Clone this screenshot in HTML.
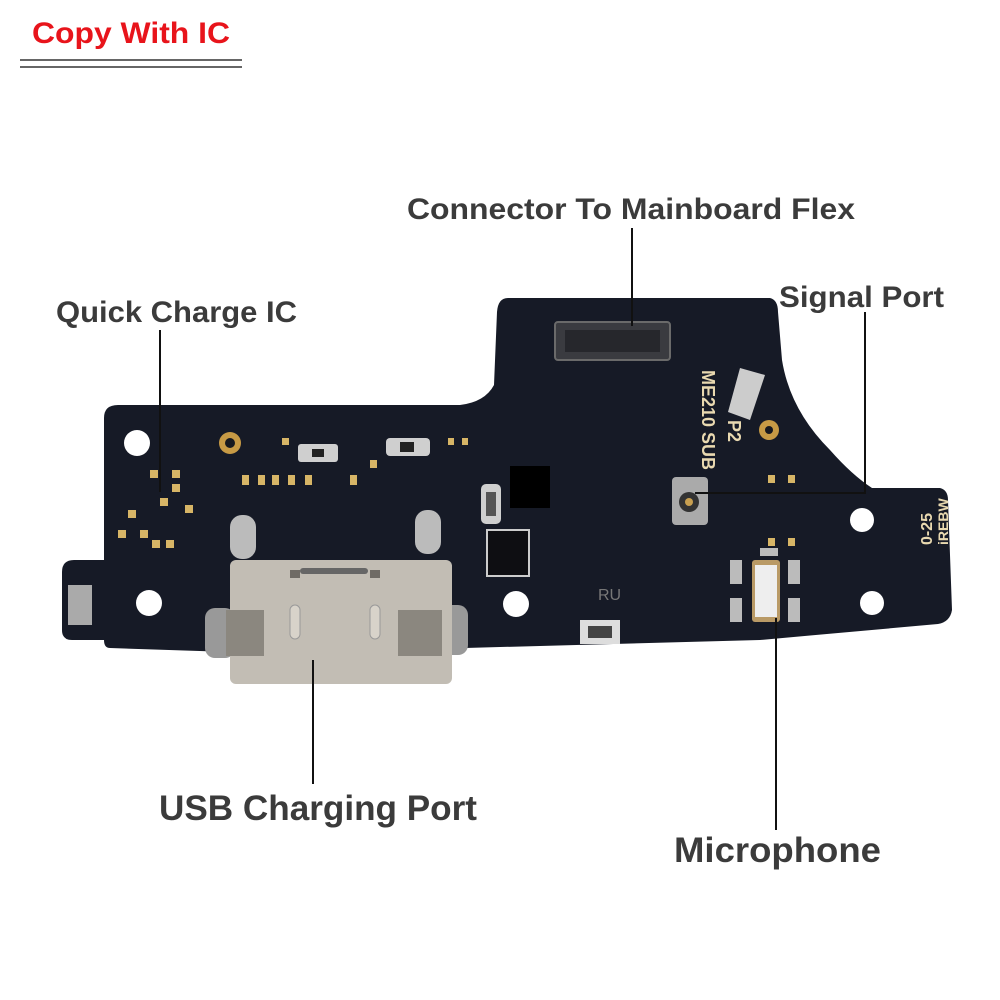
<!DOCTYPE html>
<html><head><meta charset="utf-8"><style>
html,body{margin:0;padding:0;background:#fff;}
svg{display:block}
</style></head><body>
<svg width="1000" height="1000" viewBox="0 0 1000 1000" xmlns="http://www.w3.org/2000/svg" font-family="Liberation Sans, sans-serif">
<rect width="1000" height="1000" fill="#fff"/>
<text x="32" y="43" font-size="30" font-weight="bold" fill="#e8141b" textLength="198" lengthAdjust="spacingAndGlyphs">Copy With IC</text>
<line x1="20" y1="60" x2="242" y2="60" stroke="#333" stroke-width="1.5"/>
<line x1="20" y1="67" x2="242" y2="67" stroke="#333" stroke-width="1.5"/>

<path d="M508,298 L770,298 Q778,300 778,312 L782,360 Q790,410 830,450 Q852,475 872,488 L940,488 Q948,490 948,500 L952,610 Q950,622 938,624 L760,640 L465,648 L230,652 L110,648 Q104,648 104,640 L72,640 Q62,640 62,630 L62,572 Q62,560 74,560 L104,560 L104,418 Q104,405 118,405 L460,405 Q485,402 494,385 L497,312 Q498,298 508,298 Z" fill="#161a26"/>
<rect x="555" y="322" width="115" height="38" rx="3" fill="#3a3b40" stroke="#6a6a6a" stroke-width="2"/>
<rect x="565" y="330" width="95" height="22" fill="#26272c"/>
<g fill="#fff">
<circle cx="137" cy="443" r="13"/><circle cx="862" cy="520" r="12"/><circle cx="149" cy="603" r="13"/><circle cx="516" cy="604" r="13"/><circle cx="872" cy="603" r="12"/>
</g>
<g fill="#c79a45"><circle cx="230" cy="443" r="11"/><circle cx="769" cy="430" r="10"/></g>
<g fill="#16181f"><circle cx="230" cy="443" r="5"/><circle cx="769" cy="430" r="4"/></g>
<g fill="#d7b566">
<rect x="150" y="470" width="8" height="8"/><rect x="172" y="470" width="8" height="8"/><rect x="172" y="484" width="8" height="8"/><rect x="160" y="498" width="8" height="8"/><rect x="128" y="510" width="8" height="8"/><rect x="185" y="505" width="8" height="8"/>
<rect x="118" y="530" width="8" height="8"/><rect x="140" y="530" width="8" height="8"/><rect x="152" y="540" width="8" height="8"/><rect x="166" y="540" width="8" height="8"/>
<rect x="242" y="475" width="7" height="10"/><rect x="258" y="475" width="7" height="10"/><rect x="272" y="475" width="7" height="10"/><rect x="288" y="475" width="7" height="10"/><rect x="305" y="475" width="7" height="10"/><rect x="350" y="475" width="7" height="10"/><rect x="370" y="460" width="7" height="8"/><rect x="282" y="438" width="7" height="7"/>
<rect x="448" y="438" width="6" height="7"/><rect x="462" y="438" width="6" height="7"/>
<rect x="768" y="475" width="7" height="8"/><rect x="788" y="475" width="7" height="8"/><rect x="768" y="538" width="7" height="8"/><rect x="788" y="538" width="7" height="8"/>
</g>
<rect x="298" y="444" width="40" height="18" rx="3" fill="#cfcfcf"/><rect x="312" y="449" width="12" height="8" fill="#222"/>
<rect x="386" y="438" width="44" height="18" rx="4" fill="#cfcfcf"/><rect x="400" y="442" width="14" height="10" fill="#222"/>
<rect x="481" y="484" width="20" height="40" rx="5" fill="#cfcfcf"/><rect x="486" y="492" width="10" height="24" fill="#555"/>
<rect x="510" y="466" width="40" height="42" fill="#000"/>
<rect x="487" y="530" width="42" height="46" fill="#0e0e12" stroke="#ccc" stroke-width="2"/>
<rect x="672" y="477" width="36" height="48" rx="4" fill="#aaa"/><circle cx="689" cy="502" r="10" fill="#333"/><circle cx="689" cy="502" r="4" fill="#c9a050"/>
<path d="M740,368 L765,375 L750,420 L728,412 Z" fill="#ccc"/>
<text transform="translate(702,370) rotate(90)" font-size="18" font-weight="bold" fill="#e9d9b0">ME210 SUB</text>
<text transform="translate(728,420) rotate(90)" font-size="18" font-weight="bold" fill="#e9d9b0">P2</text>
<text transform="translate(932,545) rotate(-90)" font-size="16" font-weight="bold" fill="#e9d9b0">0-25</text>
<text transform="translate(948,545) rotate(-90)" font-size="14" font-weight="bold" fill="#e9d9b0">iREBW</text>
<text x="598" y="600" font-size="16" fill="#777">RU</text>
<rect x="580" y="620" width="40" height="24" fill="#ddd"/><rect x="588" y="626" width="24" height="12" fill="#444"/>
<rect x="68" y="585" width="24" height="40" fill="#aaa"/>
<rect x="730" y="560" width="12" height="24" fill="#bbb"/><rect x="730" y="598" width="12" height="24" fill="#bbb"/><rect x="788" y="560" width="12" height="24" fill="#bbb"/><rect x="788" y="598" width="12" height="24" fill="#bbb"/>
<rect x="752" y="560" width="28" height="62" rx="3" fill="#b99a66"/><rect x="755" y="565" width="22" height="52" fill="#eee"/>
<rect x="760" y="548" width="18" height="8" fill="#bbb"/>
<rect x="230" y="515" width="26" height="44" rx="12" fill="#bbb"/><rect x="415" y="510" width="26" height="44" rx="12" fill="#bbb"/>
<rect x="205" y="608" width="30" height="50" rx="10" fill="#999"/><rect x="438" y="605" width="30" height="50" rx="10" fill="#999"/>
<rect x="230" y="560" width="222" height="124" rx="6" fill="#c2bdb4"/>
<rect x="226" y="610" width="38" height="46" fill="#8b877f"/><rect x="398" y="610" width="44" height="46" fill="#8b877f"/>
<rect x="290" y="570" width="10" height="8" fill="#6f6b65"/><rect x="370" y="570" width="10" height="8" fill="#6f6b65"/>
<rect x="300" y="568" width="68" height="6" rx="3" fill="#666"/>
<rect x="290" y="605" width="10" height="34" rx="5" fill="#d8d3ca" stroke="#999"/><rect x="370" y="605" width="10" height="34" rx="5" fill="#d8d3ca" stroke="#999"/>

<g stroke="#111" stroke-width="2" fill="none">
<line x1="632" y1="228" x2="632" y2="326"/>
<line x1="160" y1="330" x2="160" y2="492"/>
<polyline points="865,312 865,493 695,493"/>
<line x1="313" y1="660" x2="313" y2="784"/>
<line x1="776" y1="618" x2="776" y2="830"/>
</g>
<g font-weight="bold" fill="#3b3b3b" lengthAdjust="spacingAndGlyphs">
<text x="407" y="219" font-size="30" textLength="448" lengthAdjust="spacingAndGlyphs">Connector To Mainboard Flex</text>
<text x="779" y="307" font-size="30" textLength="165" lengthAdjust="spacingAndGlyphs">Signal Port</text>
<text x="56" y="322" font-size="30" textLength="241" lengthAdjust="spacingAndGlyphs">Quick Charge IC</text>
<text x="159" y="820" font-size="35" textLength="318" lengthAdjust="spacingAndGlyphs">USB Charging Port</text>
<text x="674" y="862" font-size="35" textLength="207" lengthAdjust="spacingAndGlyphs">Microphone</text>
</g>
</svg>
</body></html>
